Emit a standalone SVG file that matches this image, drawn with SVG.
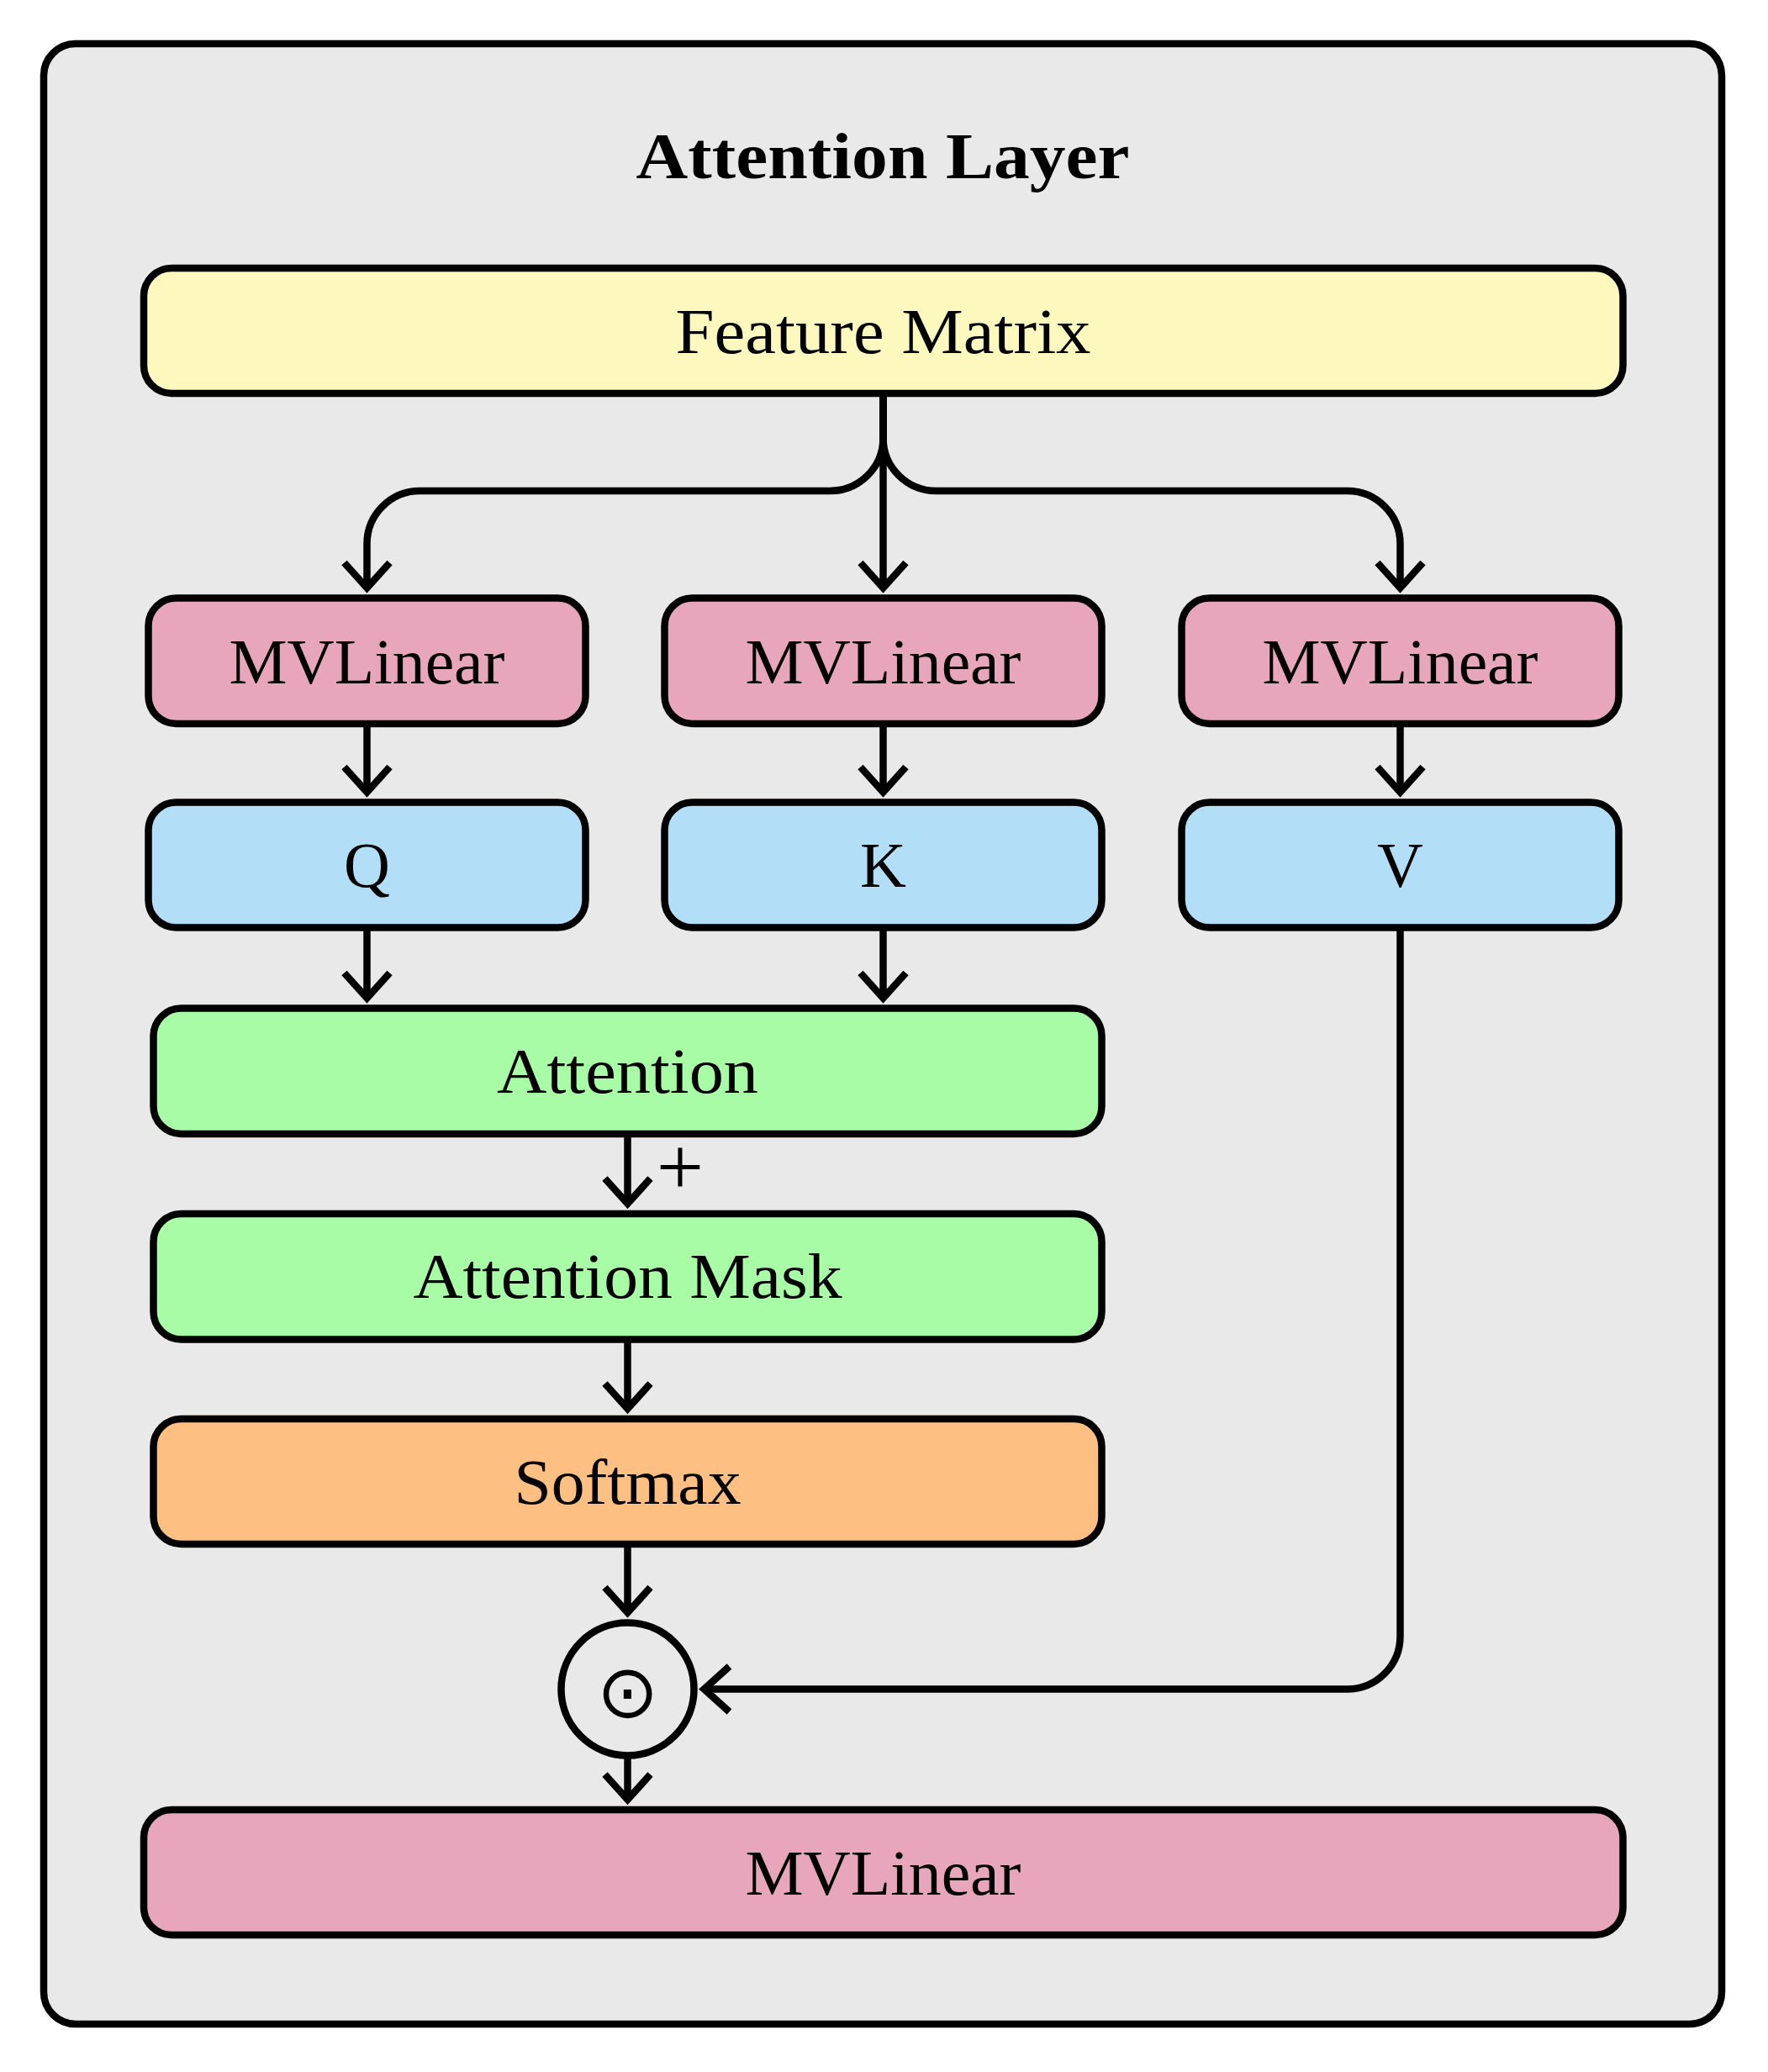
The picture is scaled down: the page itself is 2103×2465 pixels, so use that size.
<svg xmlns="http://www.w3.org/2000/svg" width="2103" height="2465" viewBox="0 0 2103 2465">
  <style>
    .node { stroke: #000; stroke-width: 8.5; }
    .lbl { font-family: "Liberation Serif", "Times New Roman", serif; font-size: 76px; fill: #000; text-anchor: middle; }
    .title { font-family: "Liberation Serif", "Times New Roman", serif; font-size: 78px; font-weight: bold; fill: #000; text-anchor: middle; }
    .conn { fill: none; stroke: #000; stroke-width: 8.5; }
    .yellow { fill: #fdf8bd; }
    .pink { fill: #e8a6bc; }
    .blue { fill: #b3def7; }
    .green { fill: #a8fca5; }
    .orange { fill: #fdbf82; }
  </style>
  <defs>
    <marker id="arr" markerUnits="userSpaceOnUse" viewBox="-50 -50 100 100" refX="0" refY="0" markerWidth="100" markerHeight="100" orient="auto" overflow="visible">
      <path d="M-30,-27 L0,0 L-30,27" fill="none" stroke="#000" stroke-width="8.5" stroke-linejoin="miter" stroke-miterlimit="10"/>
    </marker>
  </defs>

  <g id="layer">
    <rect x="52" y="52" width="1996" height="2356" rx="38" ry="38" fill="#e9e9e9" stroke="#000" stroke-width="8.5"/>
    <text class="title" x="1050" y="212" textLength="587" lengthAdjust="spacingAndGlyphs">Attention Layer</text>
  </g>

  <g id="feature-matrix">
    <rect class="node yellow" x="171" y="319" width="1759.5" height="149" rx="33"/>
    <text class="lbl" x="1050.5" y="420" textLength="494" lengthAdjust="spacingAndGlyphs">Feature Matrix</text>
  </g>

  <g id="mvlinear-q">
    <rect class="node pink" x="176.5" y="711.5" width="520" height="149.5" rx="33"/>
    <text class="lbl" x="436.5" y="813" textLength="328" lengthAdjust="spacingAndGlyphs">MVLinear</text>
  </g>
  <g id="mvlinear-k">
    <rect class="node pink" x="790.5" y="711.5" width="520" height="149.5" rx="33"/>
    <text class="lbl" x="1050.5" y="813" textLength="328" lengthAdjust="spacingAndGlyphs">MVLinear</text>
  </g>
  <g id="mvlinear-v">
    <rect class="node pink" x="1405.5" y="711.5" width="520" height="149.5" rx="33"/>
    <text class="lbl" x="1665.5" y="813" textLength="328" lengthAdjust="spacingAndGlyphs">MVLinear</text>
  </g>

  <g id="q">
    <rect class="node blue" x="176.5" y="954.5" width="520" height="149" rx="33"/>
    <text class="lbl" x="436.5" y="1055">Q</text>
  </g>
  <g id="k">
    <rect class="node blue" x="790.5" y="954.5" width="520" height="149" rx="33"/>
    <text class="lbl" x="1050.5" y="1055">K</text>
  </g>
  <g id="v">
    <rect class="node blue" x="1405.5" y="954.5" width="520" height="149" rx="33"/>
    <text class="lbl" x="1665.5" y="1055">V</text>
  </g>

  <g id="attention">
    <rect class="node green" x="182.5" y="1199.5" width="1128" height="149.5" rx="33"/>
    <text class="lbl" x="746.5" y="1300" textLength="311" lengthAdjust="spacingAndGlyphs">Attention</text>
  </g>

  <g id="attention-mask">
    <rect class="node green" x="182.5" y="1444" width="1128" height="149.5" rx="33"/>
    <text class="lbl" x="746.5" y="1544" textLength="510" lengthAdjust="spacingAndGlyphs">Attention Mask</text>
  </g>

  <g id="softmax">
    <rect class="node orange" x="182.5" y="1688" width="1128" height="149" rx="33"/>
    <text class="lbl" x="746.5" y="1789" textLength="270" lengthAdjust="spacingAndGlyphs">Softmax</text>
  </g>

  <g id="hadamard">
    <circle cx="746.5" cy="2009.5" r="79" fill="#e9e9e9" stroke="#000" stroke-width="8.5"/>
    <text x="746.5" y="2043" font-family="DejaVu Sans, sans-serif" font-size="88" text-anchor="middle" fill="#000">⊙</text>
  </g>

  <g id="mvlinear-out">
    <rect class="node pink" x="171" y="2153" width="1759.5" height="149" rx="33"/>
    <text class="lbl" x="1050.5" y="2254" textLength="328" lengthAdjust="spacingAndGlyphs">MVLinear</text>
  </g>

  <g id="connectors">
    <path class="conn" marker-end="url(#arr)" d="M1050.5,468 V521 A63,63 0 0 1 987.5,584 H499.5 A63,63 0 0 0 436.5,647 V699.5"/>
    <path class="conn" marker-end="url(#arr)" d="M1050.5,468 V699.5"/>
    <path class="conn" marker-end="url(#arr)" d="M1050.5,468 V521 A63,63 0 0 0 1113.5,584 H1602.5 A63,63 0 0 1 1665.5,647 V699.5"/>
    <path class="conn" marker-end="url(#arr)" d="M436.5,861 V942.5"/>
    <path class="conn" marker-end="url(#arr)" d="M1050.5,861 V942.5"/>
    <path class="conn" marker-end="url(#arr)" d="M1665.5,861 V942.5"/>
    <path class="conn" marker-end="url(#arr)" d="M436.5,1103.5 V1187.5"/>
    <path class="conn" marker-end="url(#arr)" d="M1050.5,1103.5 V1187.5"/>
    <path class="conn" marker-end="url(#arr)" d="M746.5,1349 V1432"/>
    <text class="lbl" x="809" y="1422" style="font-size:100px">+</text>
    <path class="conn" marker-end="url(#arr)" d="M746.5,1593.5 V1676"/>
    <path class="conn" marker-end="url(#arr)" d="M746.5,1837 V1918.5"/>
    <path class="conn" marker-end="url(#arr)" d="M1665.5,1103.5 V1946.5 A63,63 0 0 1 1602.5,2009.5 H837.5"/>
    <path class="conn" marker-end="url(#arr)" d="M746.5,2088.5 V2141"/>
  </g>
</svg>
